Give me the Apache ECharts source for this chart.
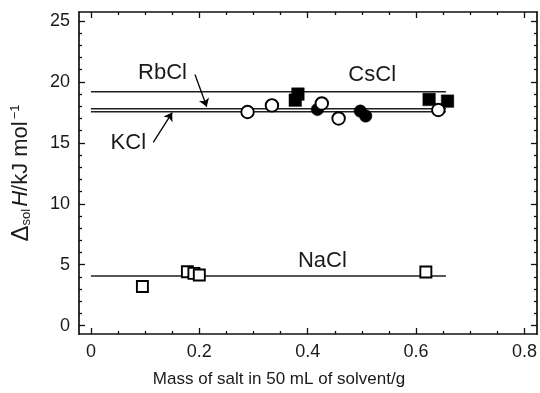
<!DOCTYPE html>
<html>
<head>
<meta charset="utf-8">
<script src="https://cdn.jsdelivr.net/npm/echarts@6/dist/echarts.min.js"></script>
<style>html,body{margin:0;padding:0;background:#fff}#c{width:540px;height:393px}</style>
</head>
<body>
<div id="c"></div>
<script>
// ---- data ----
var xTicks = [0, 0.2, 0.4, 0.6, 0.8];
var xMinorTicks = [0.05,0.1,0.15,0.25,0.3,0.35,0.45,0.5,0.55,0.65,0.7,0.75];
var yTicks = [0, 5, 10, 15, 20, 25];
var yMinorTicks = [1,2,3,4,6,7,8,9,11,12,13,14,16,17,18,19,21,22,23,24];

// filled squares (CsCl)
var csclPoints = [[0.382, 19.0], [0.377, 18.5], [0.624, 18.56], [0.658, 18.42]];
// filled circles
var rbclPoints = [[0.418, 17.74], [0.497, 17.6], [0.507, 17.2]];
// open circles
var kclPoints = [[0.289, 17.53], [0.334, 18.07], [0.426, 18.23], [0.457, 17.0], [0.641, 17.69]];
// open squares (NaCl)
var naclPoints = [[0.095, 3.21], [0.178, 4.43], [0.190, 4.29], [0.200, 4.16], [0.618, 4.4]];

// mean lines: [name, value]
var fitNames = ['CsCl', 'RbCl', 'KCl', 'NaCl'];
var fitValues = [19.18, 17.80, 17.55, 4.08];
var fitRange = [0, 0.655];

// annotation labels (data coordinates)
var labelNames = ['RbCl', 'CsCl', 'KCl', 'NaCl'];
var labelPos = [[0.132, 20.72], [0.519, 20.59], [0.069, 15.01], [0.427, 5.31]];
// arrows: from -> to (data coordinates)
var arrowRb = [[0.192, 20.6], [0.2137, 17.96]];
var arrowK = [[0.115, 15.03], [0.150, 17.48]];

var xMin = -0.022, xMax = 0.823, yMin = -0.68, yMax = 25.73;

var font = 'Liberation Sans, Arial, Helvetica, sans-serif';
var ink = '#111';
var txt = '#1a1a1a';

function mkX(pos, values, len, showLine, showLabel, extra) {
  var o = {
    type: 'value', min: xMin, max: xMax, position: pos,
    axisLine: {show: showLine, onZero: false, lineStyle: {color: ink, width: 1.7}},
    axisTick: {show: true, inside: true, length: len, customValues: values, lineStyle: {color: ink, width: 1.3}},
    axisLabel: {show: showLabel, customValues: values, fontFamily: font, fontSize: 18, color: txt, margin: 9},
    splitLine: {show: false}
  };
  return Object.assign(o, extra || {});
}
function mkY(pos, values, len, showLine, showLabel, extra) {
  var o = {
    type: 'value', min: yMin, max: yMax, position: pos,
    axisLine: {show: showLine, onZero: false, lineStyle: {color: ink, width: 1.7}},
    axisTick: {show: true, inside: true, length: len, customValues: values, lineStyle: {color: ink, width: 1.3}},
    axisLabel: {show: showLabel, customValues: values, fontFamily: font, fontSize: 18, color: txt, margin: 9},
    splitLine: {show: false}
  };
  return Object.assign(o, extra || {});
}

var fitSeries = fitNames.map(function (n, i) {
  return {
    name: n + ' mean', type: 'line', xAxisIndex: 0, yAxisIndex: 0,
    data: [[fitRange[0], fitValues[i]], [fitRange[1], fitValues[i]]],
    symbol: 'none', silent: true, z: 2,
    lineStyle: {color: '#1e1e1e', width: 1.5}
  };
});

var option = {
  animation: false,
  backgroundColor: '#fff',
  grid: {left: 79, top: 12, right: 3, bottom: 57, containLabel: false},
  xAxis: [
    mkX('bottom', xTicks, 6, true, true, {
      name: 'Mass of salt in 50 mL of solvent/g', nameLocation: 'middle', nameGap: 37,
      nameTextStyle: {fontFamily: font, fontSize: 17, color: txt, padding: [0, 58, 0, 0]}
    }),
    mkX('top', xTicks, 6, true, false),
    mkX('bottom', xMinorTicks, 3, false, false),
    mkX('top', xMinorTicks, 3, false, false)
  ],
  yAxis: [
    mkY('left', yTicks, 6, true, true, {
      name: '{d|Δ}{sub|sol}{i|H}{n|/kJ mol}{sup|−1}', nameLocation: 'middle', nameGap: 46, nameRotate: 90,
      nameTextStyle: {
        fontFamily: font, fontSize: 22, color: txt,
        rich: {
          d: {fontFamily: font, fontSize: 24, color: txt},
          sub: {fontFamily: font, fontSize: 13, color: txt, verticalAlign: 'bottom', padding: [0, 2, 0, 0]},
          i: {fontFamily: font, fontSize: 22, color: txt, fontStyle: 'italic'},
          n: {fontFamily: font, fontSize: 22, color: txt},
          sup: {fontFamily: font, fontSize: 13, color: txt, verticalAlign: 'top', padding: [0, 0, 0, 2]}
        }
      }
    }),
    mkY('right', yTicks, 6, true, false),
    mkY('left', yMinorTicks, 3, false, false),
    mkY('right', yMinorTicks, 3, false, false)
  ],
  series: fitSeries.concat([
    {
      name: 'CsCl', type: 'scatter', data: csclPoints, symbol: 'rect', symbolSize: 12.5, z: 5,
      itemStyle: {color: '#000', borderColor: '#000', borderWidth: 0.5, opacity: 1}
    },
    {
      name: 'RbCl', type: 'scatter', data: rbclPoints, symbol: 'circle', symbolSize: 12.5, z: 5,
      itemStyle: {color: '#000', borderColor: '#000', borderWidth: 0.5, opacity: 1}
    },
    {
      name: 'KCl', type: 'scatter', data: kclPoints, symbol: 'circle', symbolSize: 12.5, z: 6,
      itemStyle: {color: '#fff', borderColor: '#000', borderWidth: 1.9, opacity: 1}
    },
    {
      name: 'NaCl', type: 'scatter', data: naclPoints, symbol: 'rect', symbolSize: 11, z: 6,
      itemStyle: {color: '#fff', borderColor: '#000', borderWidth: 1.9, opacity: 1}
    },
    {
      name: 'labels', type: 'scatter', symbolSize: 0, silent: true, z: 7,
      itemStyle: {opacity: 1},
      data: labelNames.map(function (n, i) {
        return {value: labelPos[i], label: {formatter: n}};
      }),
      label: {show: true, position: 'inside', fontFamily: font, fontSize: 22, color: txt, opacity: 1},
      markLine: {
        silent: true, symbol: ['none', 'arrow'], symbolSize: 8, animation: false,
        label: {show: false},
        lineStyle: {color: '#000', width: 1.3, type: 'solid', opacity: 1},
        data: [
          [{coord: arrowRb[0]}, {coord: arrowRb[1]}],
          [{coord: arrowK[0]}, {coord: arrowK[1]}]
        ]
      }
    }
  ])
};

var chart = echarts.init(document.getElementById('c'), null, {renderer: 'canvas'});
chart.setOption(option);
</script>
</body>
</html>
